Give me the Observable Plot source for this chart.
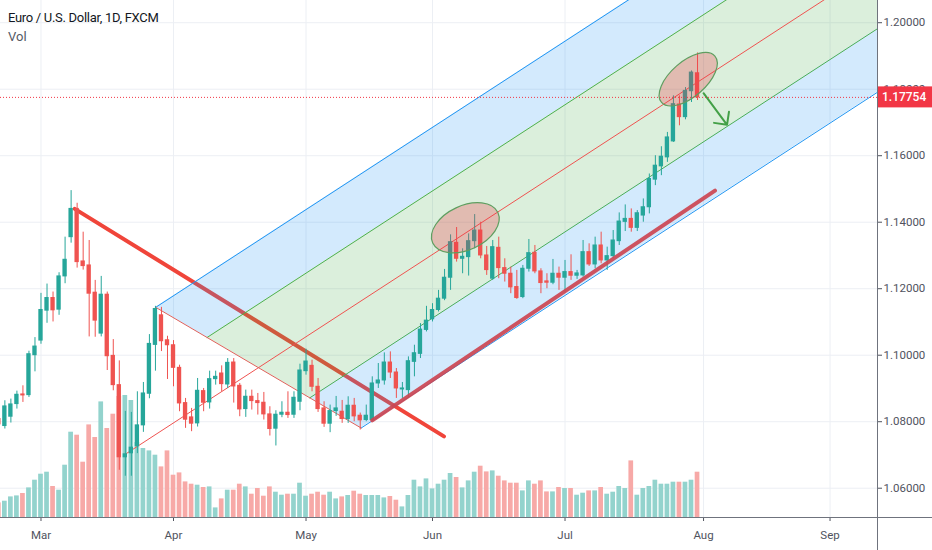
<!DOCTYPE html>
<html>
<head>
<meta charset="utf-8">
<script src="https://cdn.jsdelivr.net/npm/d3@7"></script>
<script src="https://cdn.jsdelivr.net/npm/@observablehq/plot@0.6"></script>
<style>
html, body { margin: 0; padding: 0; background: #fff; }
#wrap { position: relative; width: 932px; height: 550px; overflow: hidden; font-family: Roboto, "Noto Sans", sans-serif; }
#wrap svg { position: absolute; left: 0; top: 0; }
.ov { position: absolute; white-space: nowrap; }
</style>
</head>
<body>
<div id="wrap"></div>
<script>
// ---------- data (EUR/USD daily, FXCM) ----------
const firstIndex = -7; // Feb 20, 2020 ; index 0 = Mar 2, 2020 (trading days)
const open = [1.0808,1.0787,1.0815,1.0853,1.0882,1.0880,1.1000,
 1.1044,1.1134,1.1172,1.1137,1.1237,
 1.1355,1.1440,1.1282,1.1270,1.1188,
 1.1065,1.1182,1.0998,1.0910,1.0693,
 1.0705,1.0726,1.0789,1.0884,1.1031,
 1.1120,1.1045,
 1.1030,1.0962,1.0856,1.0813,1.0795,1.0892,1.0858,1.0928,
 1.0945,1.0912,1.0978,1.0908,1.0838,
 1.0875,1.0862,1.0857,1.0822,1.0779,
 1.0821,1.0827,1.0821,1.0860,
 1.0952,
 1.0968,1.0905,1.0840,1.0794,1.0832,
 1.0830,1.0808,1.0848,1.0818,1.0805,
 1.0805,1.0915,1.0924,1.0978,1.0948,
 1.0897,1.0895,1.0980,1.1004,1.1076,
 1.1108,1.1136,1.1170,1.1233,1.1338,
 1.1290,1.1295,1.1343,1.1375,1.1300,
 1.1230,1.1323,1.1262,1.1245,1.1205,
 1.1175,1.1260,1.1308,1.1252,1.1222,
 1.1218,1.1245,
 1.1233,1.1250,1.1239,
 1.1240,1.1310,1.1273,1.1330,1.1285,
 1.1298,1.1343,1.1401,1.1410,1.1383,
 1.1420,1.1445,1.1528,1.1568,1.1595,
 1.1643,1.1754,1.1716,1.1794,
 1.1848];
const high = [1.0815,1.0863,1.0868,1.0892,1.0908,1.1012,1.1053,
 1.1186,1.1214,1.1190,1.1248,1.1355,
 1.1495,1.1457,1.1370,1.1345,1.1225,
 1.1237,1.1190,1.1047,1.0983,1.0831,
 1.0828,1.0890,1.0918,1.1062,1.1147,
 1.1144,1.1057,
 1.1044,1.0970,1.0870,1.0840,1.0930,1.0900,1.0952,1.0952,
 1.0968,1.0990,1.0990,1.0915,1.0895,
 1.0895,1.0885,1.0888,1.0845,1.0833,
 1.0860,1.0890,1.0890,1.0973,
 1.1018,
 1.0985,1.0930,1.0860,1.0850,1.0876,
 1.0864,1.0875,1.0870,1.0826,1.0850,
 1.0935,1.0975,1.1007,1.1010,1.0960,
 1.0918,1.0995,1.1030,1.1095,1.1147,
 1.1155,1.1195,1.1258,1.1362,1.1384,
 1.1320,1.1365,1.1423,1.1400,1.1327,
 1.1345,1.1355,1.1290,1.1265,1.1255,
 1.1270,1.1348,1.1330,1.1260,1.1245,
 1.1288,1.1265,
 1.1285,1.1302,1.1255,
 1.1345,1.1335,1.1355,1.1370,1.1325,
 1.1375,1.1428,1.1452,1.1440,1.1435,
 1.1470,1.1545,1.1600,1.1627,1.1670,
 1.1780,1.1780,1.1805,1.1855,
 1.1909];
const low = [1.0778,1.0778,1.0796,1.0838,1.0858,1.0873,1.0950,
 1.1033,1.1096,1.1100,1.1120,1.1215,
 1.1337,1.1262,1.1256,1.1055,1.1054,
 1.1055,1.0954,1.0893,1.0654,1.0636,
 1.0636,1.0704,1.0768,1.0869,1.0952,
 1.1011,1.0927,
 1.0905,1.0830,1.0780,1.0770,1.0784,1.0830,1.0838,1.0910,
 1.0890,1.0900,1.0856,1.0815,1.0813,
 1.0835,1.0820,1.0805,1.0757,1.0727,
 1.0812,1.0810,1.0810,1.0833,
 1.0940,
 1.0890,1.0828,1.0783,1.0767,1.0816,
 1.0795,1.0795,1.0800,1.0775,1.0800,
 1.0802,1.0900,1.0910,1.0930,1.0870,
 1.0870,1.0870,1.0935,1.0990,1.1070,
 1.1100,1.1130,1.1164,1.1195,1.1280,
 1.1245,1.1238,1.1320,1.1290,1.1240,
 1.1225,1.1230,1.1220,1.1185,1.1168,
 1.1170,1.1250,1.1245,1.1185,1.1200,
 1.1212,1.1195,
 1.1190,1.1225,1.1228,
 1.1235,1.1267,1.1260,1.1275,1.1255,
 1.1290,1.1330,1.1372,1.1370,1.1372,
 1.1400,1.1425,1.1510,1.1540,1.1580,
 1.1640,1.1690,1.1708,1.1760,
 1.1766];
const close = [1.0792,1.0846,1.0852,1.0881,1.0879,1.1003,1.1026,
 1.1136,1.1172,1.1135,1.1237,1.1287,
 1.1440,1.1280,1.1268,1.1185,1.1104,
 1.1182,1.0997,1.0910,1.0693,1.0702,
 1.0722,1.0789,1.0885,1.1034,1.1139,
 1.1042,1.1030,
 1.0962,1.0855,1.0806,1.0794,1.0893,1.0857,1.0928,1.0935,
 1.0913,1.0977,1.0906,1.0837,1.0875,
 1.0862,1.0856,1.0822,1.0778,1.0821,
 1.0827,1.0820,1.0872,1.0954,
 1.0981,
 1.0905,1.0838,1.0794,1.0832,1.0840,
 1.0808,1.0848,1.0816,1.0804,1.0818,
 1.0915,1.0924,1.0978,1.0948,1.0900,
 1.0900,1.0982,1.1006,1.1077,1.1104,
 1.1136,1.1170,1.1233,1.1340,1.1290,
 1.1296,1.1343,1.1375,1.1300,1.1256,
 1.1325,1.1262,1.1245,1.1204,1.1172,
 1.1260,1.1307,1.1252,1.1217,1.1218,
 1.1245,1.1233,
 1.1250,1.1239,1.1246,
 1.1310,1.1273,1.1330,1.1285,1.1298,
 1.1345,1.1402,1.1410,1.1383,1.1427,
 1.1445,1.1530,1.1570,1.1597,1.1655,
 1.1755,1.1716,1.1795,1.1850,
 1.17754];
const volume = [14.6,16.3,20.6,21.6,24.0,29.6,37.3,
 43.3,45.3,31.0,27.3,52.3,
 85.3,82.3,55.3,92.6,80.0,
 115.6,89.0,103.3,121,122,
 117,75,69,66.6,62.3,
 50.6,66.6,
 42.3,44.6,35.6,33.3,32.3,30.0,30.6,9.6,
 18.6,27.3,27.3,33.3,30.6,
 23.3,29.0,21.3,30.6,25.3,
 22.3,23.3,23.3,34.3,
 21.3,
 23.3,25.3,22.3,25.3,18.6,
 20.6,22.0,26.3,23.3,22.0,
 22.0,22.0,19.6,21.0,17.3,
 10.6,22.0,37.3,30.6,38.6,
 28.6,33.3,37.3,44.0,40.0,
 29.6,36.6,45.3,51.3,45.6,
 46.6,41.3,36.6,34.3,34.3,
 26.6,36.6,33.3,36.6,25.6,
 25.6,30.0,
 29.0,29.0,22.3,
 24.3,26.6,26.6,30.0,23.3,
 25.3,31.0,29.0,56.6,22.3,
 29.0,31.0,37.3,33.3,33.3,
 35.3,35.3,35.3,37.3,
 45.3];

const monthIdx = [0, 22, 44, 65, 87, 110, 131];
const monthLabels = ["Mar", "Apr", "May", "Jun", "Jul", "Aug", "Sep"];
const priceTicks = [1.06, 1.08, 1.10, 1.12, 1.14, 1.16, 1.18, 1.20];
const lastPrice = 1.17754;

// drawings, anchored in (trading-day index, price)
const pfP1 = [13.9, 1.0701];
const pfP2 = [19.05, 1.1144];
const pfP3 = [53.15, 1.0781];
const downTrend = [[5.6, 1.1440], [66.9, 1.0756]];
const upTrend = [[55.0, 1.0804], [111.9, 1.1495]];
const ellipseCenters = [[70.53, 1.13817], [107.54, 1.18286]];
const ellipseMajorEnds = [[75.94, 1.14274], [111.97, 1.18983]];
const ellipseRatios = [0.611, 0.5];
const arrowFrom = [110.0, 1.1788];
const arrowTo = [113.9, 1.1693];

// ---------- build ----------
const candles = open.map((o, k) => ({
  i: k + firstIndex, o, h: high[k], l: low[k], c: close[k], v: volume[k]
}));
const UP = "#26a69a", DOWN = "#ef5350";
const col = d => d.c >= d.o ? UP : DOWN;

const xDomain = [-6.724, 138.88];
const yDomain = [1.05119, 1.20668];
const common = { width: 932, height: 550, marginTop: 0, marginRight: 55, marginBottom: 33, marginLeft: 0 };

// pitchfork geometry
const mid = [(pfP2[0] + pfP3[0]) / 2, (pfP2[1] + pfP3[1]) / 2];
const slope = (mid[1] - pfP1[1]) / (mid[0] - pfP1[0]);
const along = (a, b, t) => [a[0] + (b[0] - a[0]) * t, a[1] + (b[1] - a[1]) * t];
const G1 = along(pfP2, pfP3, 0.25), G2 = along(pfP2, pfP3, 0.75);
const at = (pt, x) => pt[1] + slope * (x - pt[0]);
const xEnd = xDomain[1];
const ray = pt => [[pt[0], pt[1]], [xEnd, at(pt, xEnd)]];
const upperBlue = [
  {x: pfP2[0], y1: pfP2[1], y2: pfP2[1]},
  {x: G1[0], y1: G1[1], y2: at(pfP2, G1[0])},
  {x: xEnd, y1: at(G1, xEnd), y2: at(pfP2, xEnd)}];
const greenZone = [
  {x: G1[0], y1: G1[1], y2: G1[1]},
  {x: G2[0], y1: G2[1], y2: at(G1, G2[0])},
  {x: xEnd, y1: at(G2, xEnd), y2: at(G1, xEnd)}];
const lowerBlue = [
  {x: G2[0], y1: G2[1], y2: G2[1]},
  {x: pfP3[0], y1: pfP3[1], y2: at(G2, pfP3[0])},
  {x: xEnd, y1: at(pfP3, xEnd), y2: at(G2, xEnd)}];

const wrap = document.getElementById("wrap");

// layer 1: grid + axes
const base = Plot.plot({
  ...common,
  style: { background: "#ffffff", fontFamily: "Roboto, sans-serif", fontSize: "11.5px", color: "#50535e" },
  x: { domain: xDomain, ticks: monthIdx, tickFormat: d => monthLabels[monthIdx.indexOf(d)], tickSize: 4, tickPadding: 9, label: null },
  y: { domain: yDomain, axis: "right", ticks: priceTicks, tickFormat: d => d.toFixed(5), tickSize: 4, tickPadding: 2, label: null },
  marks: [
    Plot.ruleX(monthIdx, { stroke: "#eceff4", strokeWidth: 1 }),
    Plot.ruleY(priceTicks, { stroke: "#eceff4", strokeWidth: 1 })
  ]
});
wrap.appendChild(base);

// layer 2: volume
const volPlot = Plot.plot({
  ...common,
  style: { background: "none" },
  x: { domain: xDomain, axis: null },
  y: { domain: [0, 517], axis: null },
  marks: [
    Plot.rect(candles, {
      x1: d => d.i - 0.39, x2: d => d.i + 0.39, y1: 0, y2: "v",
      fill: d => d.c >= d.o ? "#93d3cd" : "#f7a9a7", clip: true
    })
  ]
});
wrap.appendChild(volPlot);

// layer 3: price + drawings
const ellipseMark = (index, scales) => {
  const g = d3.create("svg:g");
  ellipseCenters.forEach((c, k) => {
    const cx = scales.x(c[0]), cy = scales.y(c[1]);
    const ex = scales.x(ellipseMajorEnds[k][0]), ey = scales.y(ellipseMajorEnds[k][1]);
    const a = Math.hypot(ex - cx, ey - cy);
    const ang = Math.atan2(ey - cy, ex - cx) * 180 / Math.PI;
    g.append("ellipse")
      .attr("cx", cx).attr("cy", cy).attr("rx", a).attr("ry", a * ellipseRatios[k])
      .attr("transform", `rotate(${ang} ${cx} ${cy})`)
      .attr("fill", "rgba(242,54,69,0.28)")
      .attr("stroke", "#5f9e60").attr("stroke-width", 1.2);
  });
  return g.node();
};
const priceLabelMark = (index, scales) => {
  const g = d3.create("svg:g");
  const y = scales.y(lastPrice);
  g.append("rect").attr("x", 877.5).attr("y", y - 10.5).attr("width", 55).attr("height", 21).attr("fill", "#f23645");
  g.append("text").attr("x", 882).attr("y", y).attr("dy", "0.35em").attr("text-anchor", "start")
    .attr("fill", "#ffffff").attr("font-size", "12px").attr("font-weight", "500")
    .attr("font-family", "Roboto, sans-serif").text(lastPrice.toFixed(5));
  return g.node();
};

const pricePlot = Plot.plot({
  ...common,
  style: { background: "none" },
  x: { domain: xDomain, axis: null },
  y: { domain: yDomain, axis: null },
  marks: [
    Plot.line(downTrend, { x: d => d[0], y: d => d[1], stroke: "#f0453a", strokeWidth: 4 }),
    Plot.areaY(upperBlue, { x: "x", y1: "y1", y2: "y2", fill: "#2196f3", fillOpacity: 0.2, clip: true }),
    Plot.areaY(greenZone, { x: "x", y1: "y1", y2: "y2", fill: "#4caf50", fillOpacity: 0.2, clip: true }),
    Plot.areaY(lowerBlue, { x: "x", y1: "y1", y2: "y2", fill: "#2196f3", fillOpacity: 0.2, clip: true }),
    Plot.line(ray(pfP2), { x: d => d[0], y: d => d[1], stroke: "#2196f3", strokeWidth: 1, clip: true }),
    Plot.line(ray(pfP3), { x: d => d[0], y: d => d[1], stroke: "#2196f3", strokeWidth: 1, clip: true }),
    Plot.line(ray(G1), { x: d => d[0], y: d => d[1], stroke: "#4caf50", strokeWidth: 1, clip: true }),
    Plot.line(ray(G2), { x: d => d[0], y: d => d[1], stroke: "#4caf50", strokeWidth: 1, clip: true }),
    Plot.line(ray(pfP1), { x: d => d[0], y: d => d[1], stroke: "#ef5350", strokeWidth: 1, clip: true }),
    Plot.line([pfP2, pfP3], { x: d => d[0], y: d => d[1], stroke: "#e0605a", strokeWidth: 1, clip: true }),
    Plot.ruleX(candles, { x: "i", y1: "l", y2: "h", stroke: col, strokeWidth: 1, clip: true }),
    Plot.rect(candles, {
      x1: d => d.i - 0.36, x2: d => d.i + 0.36,
      y1: d => Math.min(d.o, d.c), y2: d => Math.max(d.o, d.c),
      fill: col, insetTop: -0.5, insetBottom: -0.5, clip: true
    }),
    Plot.line(upTrend, { x: d => d[0], y: d => d[1], stroke: "#cc4552", strokeOpacity: 0.92, strokeWidth: 4 }),
    ellipseMark,
    Plot.arrow([[arrowFrom, arrowTo]], {
      x1: d => d[0][0], y1: d => d[0][1], x2: d => d[1][0], y2: d => d[1][1],
      stroke: "#43a047", strokeWidth: 2, headLength: 14, headAngle: 90
    }),
    Plot.ruleY([lastPrice], { stroke: "#f23645", strokeWidth: 1, strokeDasharray: "1 2" }),
    priceLabelMark
  ]
});
wrap.appendChild(pricePlot);

// axis lines (chart chrome)
const vline = document.createElement("div");
vline.className = "ov";
vline.style.cssText = "left:877px;top:0;width:1px;height:550px;background:#6f737d;";
wrap.appendChild(vline);
const hline = document.createElement("div");
hline.className = "ov";
hline.style.cssText = "left:0;top:517px;width:932px;height:1px;background:#6f737d;";
wrap.appendChild(hline);

// header
const t1 = document.createElement("div");
t1.className = "ov";
t1.style.cssText = "left:8px;top:10px;font-size:13px;letter-spacing:-0.3px;color:#131722;";
t1.textContent = "Euro / U.S. Dollar, 1D, FXCM";
wrap.appendChild(t1);
const t2 = document.createElement("div");
t2.className = "ov";
t2.style.cssText = "left:8px;top:29px;font-size:13px;color:#555a66;";
t2.textContent = "Vol";
wrap.appendChild(t2);
</script>
</body>
</html>
